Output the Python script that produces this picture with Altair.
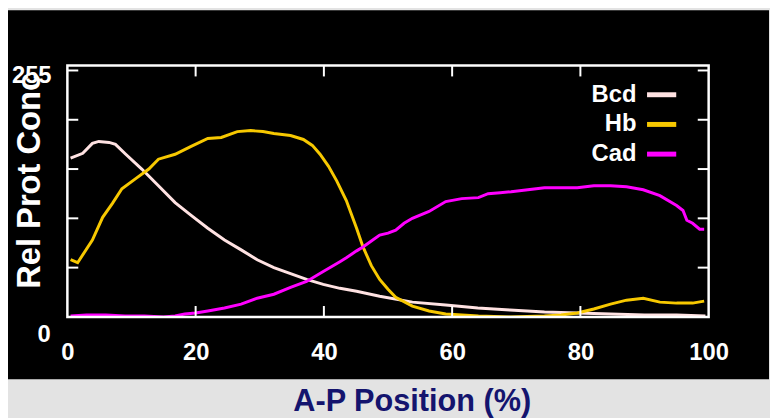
import altair as alt
import pandas as pd

series_names = ["Bcd", "Hb", "Cad"]
series_colors = ["#ffe2e2", "#f7c800", "#ff00ff"]

bcd_x = [0.5, 2.4, 3.9, 4.9, 6.5, 7.5, 9.1, 11.6, 14.2, 16.8, 19.3, 21.9, 24.5, 27.1, 29.6,
         32.2, 34.8, 37.3, 39.9, 42.5, 45.1, 48.7, 53.8, 59, 64, 69, 74.4, 79.5, 84.7, 90, 95, 99.5]
bcd_y = [161, 166, 176, 178, 177, 175, 165, 150, 133, 116, 103, 90, 78, 68, 58,
         50, 44, 38, 33, 29, 26, 21, 15, 12, 9, 7, 5, 4, 3, 2, 2, 1]

hb_x = [0.5, 1.6, 3.9, 5.5, 7.0, 8.5, 10.6, 12.7, 14.2, 16.8, 19.3, 21.9, 24.0, 26.5, 28.6,
        30.5, 32.2, 34.8, 36.8, 38.2, 39.4, 40.7, 42.0, 43.5, 45.1, 46.1, 47.4, 48.7, 50.0,
        51.2, 53.8, 56.4, 59, 64.1, 69, 74.4, 77, 79.5, 82.1, 84.7, 87.2, 89.8, 92.4, 95,
        97.5, 99.3]
hb_y = [58, 55, 78, 101, 115, 130, 140, 150, 160, 165, 173, 181, 182, 188, 189,
        188, 186, 184, 180, 174, 165, 153, 138, 118, 90, 71, 52, 38, 28,
        20, 11, 6, 3, 1, 0, 1, 2, 4, 8, 13, 17, 19, 15, 14,
        14, 16]

cad_x = [0.5, 3, 6, 9, 12, 15, 16.8, 18.3, 20, 21.9, 24.5, 27.1, 29.6, 32.2, 34.8, 37.3,
         39.9, 42.5, 43.5, 45.1, 46.1, 47.4, 48.7, 50, 51.2, 52.5, 53.8, 56.4, 59, 61.5,
         64.1, 65.6, 67.5, 69.2, 71.8, 74.4, 77, 79.5, 82.1, 84.7, 87.2, 89.8, 92.4, 95,
         96, 96.6, 97.5, 98.6, 99.3]
cad_y = [1, 2, 2, 1, 1, 0, 1, 3, 4, 6, 9, 13, 19, 23, 30, 36,
         46, 56, 60, 67, 71, 77, 83, 85, 88, 95, 100, 107, 117, 120,
         121, 125, 126, 127, 129, 131, 131, 131, 133, 133, 132, 129, 123, 113,
         108, 98, 95, 89, 89]

x_label_values = [0, 20, 40, 60, 80, 100]
x_inner_ticks = [20, 40, 60, 80]
y_inner_ticks = [50, 100, 150, 200, 250]
y_top_label = ["255"]
y_top_value = [255]
y_bottom_label = ["0"]
y_bottom_value = [0]

rows = []
for name, xs, ys in [("Bcd", bcd_x, bcd_y), ("Hb", hb_x, hb_y), ("Cad", cad_x, cad_y)]:
    for a, b in zip(xs, ys):
        rows.append({"series": name, "pos": a, "val": b})
df = pd.DataFrame(rows)

W, H = 648, 254
FONT = "Liberation Sans"
xscale = alt.Scale(domain=[0, 100], nice=False, zero=False)
yscale = alt.Scale(domain=[0, 255], nice=False, zero=False)

one = pd.DataFrame({"a": [0]})

panel = alt.Chart(one).mark_rect(color="black").encode(
    x=alt.value(-60), x2=alt.value(709), y=alt.value(-56), y2=alt.value(317)
)

x_axis = alt.Axis(
    values=x_label_values, tickSize=0, domain=False, grid=False,
    labelFont=FONT, labelFontSize=24, labelFontWeight="bold", labelColor="white",
    labelPadding=24, labelFlush=False, labelOverlap=False,
    title="A-P Position (%)", titleFont=FONT, titleFontSize=31, titleFontWeight="bold",
    titleColor="#14146e", titleX=348, titleY=86, titleBaseline="middle", titleAlign="center",
    zindex=1)
y_axis = alt.Axis(
    labels=False, ticks=False, domain=False, grid=False,
    title="Rel Prot Conc", titleFont=FONT, titleFontSize=33, titleFontWeight="bold",
    titleColor="white", titleX=-38, titleY=116, titleAngle=270,
    titleBaseline="middle", titleAlign="center", zindex=1)

lines = alt.Chart(df).mark_line(strokeWidth=3, clip=True).encode(
    x=alt.X("pos:Q", scale=xscale, axis=x_axis),
    y=alt.Y("val:Q", scale=yscale, axis=y_axis),
    color=alt.Color("series:N", scale=alt.Scale(domain=series_names, range=series_colors),
                    legend=alt.Legend(orient="none", legendX=583, legendY=12, title=None,
                                      symbolType="stroke", symbolSize=870, symbolStrokeWidth=5,
                                      labelFont=FONT, labelFontSize=24, labelFontWeight="bold",
                                      labelColor="white", labelAlign="right",
                                      labelOffset={"expr": "-43"},
                                      rowPadding=0, padding=0, zindex=1)),
)

frame = alt.Chart(one).mark_rect(fillOpacity=0, stroke="white", strokeWidth=2.5).encode(
    x=alt.value(0), x2=alt.value(W), y=alt.value(0), y2=alt.value(H)
)

xt = pd.DataFrame({"pos": x_inner_ticks})
yt = pd.DataFrame({"val": y_inner_ticks})
tick_style = dict(color="white", strokeWidth=2)
bottom_ticks = alt.Chart(xt).mark_rule(**tick_style).encode(
    x=alt.X("pos:Q", scale=xscale, axis=x_axis), y=alt.value(H), y2=alt.value(H - 11))
top_ticks = alt.Chart(xt).mark_rule(**tick_style).encode(
    x=alt.X("pos:Q", scale=xscale, axis=x_axis), y=alt.value(0), y2=alt.value(11))
left_ticks = alt.Chart(yt).mark_rule(**tick_style).encode(
    y=alt.Y("val:Q", scale=yscale, axis=y_axis), x=alt.value(0), x2=alt.value(11))
right_ticks = alt.Chart(yt).mark_rule(**tick_style).encode(
    y=alt.Y("val:Q", scale=yscale, axis=y_axis), x=alt.value(W), x2=alt.value(W - 11))

txt_style = dict(font=FONT, fontSize=24, fontWeight="bold", color="white",
                 align="center", baseline="middle")
top_lbl = alt.Chart(pd.DataFrame({"val": y_top_value, "l": y_top_label})).mark_text(
    dy=10.5, **txt_style).encode(
    y=alt.Y("val:Q", scale=yscale, axis=y_axis), x=alt.value(-36), text="l:N")
bot_lbl = alt.Chart(pd.DataFrame({"val": y_bottom_value, "l": y_bottom_label})).mark_text(
    dy=18, **txt_style).encode(
    y=alt.Y("val:Q", scale=yscale, axis=y_axis), x=alt.value(-23.5), text="l:N")

chart = alt.layer(
    panel, lines, frame, bottom_ticks, top_ticks, left_ticks, right_ticks, top_lbl, bot_lbl
).properties(
    width=W, height=H,
    autosize=alt.AutoSizeParams(type="none"),
    padding={"left": 60, "top": 56, "right": 62, "bottom": 100},
    background="#e3e3e3",
).configure_view(stroke=None)

chart.save("out.html", embed_options={"renderer": "svg", "actions": False})
